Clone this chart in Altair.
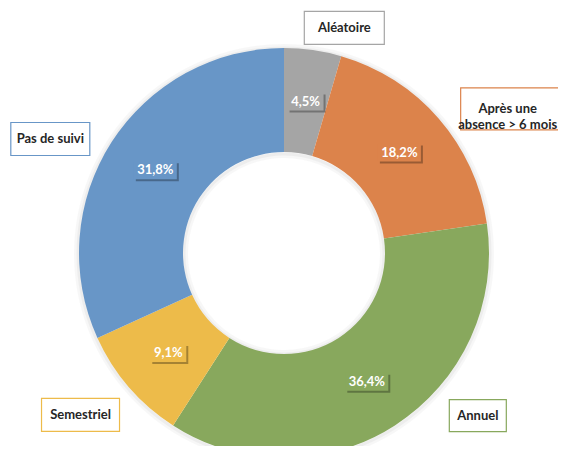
import altair as alt
import pandas as pd

# ---- data ----
categories = ["Aléatoire", "Après une absence > 6 mois", "Annuel", "Semestriel", "Pas de suivi"]
label_lines = [["Aléatoire"], ["Après une", "absence > 6 mois"], ["Annuel"], ["Semestriel"], ["Pas de suivi"]]
values = [4.5, 18.2, 36.4, 9.1, 31.8]
pct_labels = ["4,5%", "18,2%", "36,4%", "9,1%", "31,8%"]
colors = ["#A5A5A5", "#DC834B", "#88A85D", "#EDBB4A", "#6896C7"]

# ---- layout / style ----
CX, CY = 276, 245          # donut centre inside the view
R_OUT, R_IN = 205, 101
R_MID = 153
cat_angle = [15, 58, 130, 231.5, 296]      # placement of category callouts (deg, clockwise from top)
cat_radius = [233, 272, 253, 260, 260]
cat_box_w = [80, 108, 57, 78, 79]
cat_box_h = [33, 42, 32, 33, 33]
cat_text_dx = [0, -7, 0, 0, 0]
FONT = "Lato"

df = pd.DataFrame({
    "cat": categories,
    "value": values,
    "pct": pct_labels,
    "lines": label_lines,
    "idx": list(range(len(categories))),
    "la": cat_angle,
    "lr": cat_radius,
    "bw": cat_box_w,
    "bh": cat_box_h,
    "tdx": cat_text_dx,
})

color = alt.Color("cat:N", scale=alt.Scale(domain=categories, range=colors), legend=None)
base = alt.Chart(df)

# soft shadow around the ring (stroked circles, no seams)
one = alt.Chart(pd.DataFrame({"v": [1]}))
glow = alt.layer(*[
    one.mark_point(shape="circle", filled=False, stroke="#000000", strokeWidth=sw,
                   strokeOpacity=op, size=(2 * r) ** 2)
    .encode(x=alt.value(CX), y=alt.value(CY + 1))
    for (r, sw, op) in [(R_OUT + 2, 6, 0.04), (R_OUT + 1, 3, 0.05),
                        (R_IN - 2, 6, 0.04), (R_IN - 1, 3, 0.05)]
])

ring = base.mark_arc(x=CX, y=CY, innerRadius=R_IN, outerRadius=R_OUT).encode(
    theta=alt.Theta("value:Q", stack=True),
    color=color,
    order=alt.Order("idx:Q"),
)

# percentage labels at the middle of each slice
pct_base = base.transform_window(
    cum="sum(value)", sort=[alt.SortField("idx")], frame=[None, 0]
).transform_joinaggregate(total="sum(value)").transform_calculate(
    ang="2*PI*(datum.cum - datum.value/2)/datum.total",
    px=f"{CX} + {R_MID}*sin(datum.ang)",
    py=f"{CY} - {R_MID}*cos(datum.ang)",
    pw="length(datum.pct)*7 + 8",
    x1="datum.px - datum.pw/2",
    x2="datum.px + datum.pw/2",
    y1="datum.py - 9",
    y2="datum.py + 9",
    sx1="datum.x1 + 2",
    sx2="datum.x2 + 2",
    sy1="datum.y1 + 2",
    sy2="datum.y2 + 2",
)
pct_shadow = pct_base.mark_rect(color="#000000", opacity=0.3).encode(
    x=alt.X("sx1:Q", scale=None), x2="sx2:Q",
    y=alt.Y("sy1:Q", scale=None), y2="sy2:Q",
)
pct_box = pct_base.mark_rect().encode(
    x=alt.X("x1:Q", scale=None), x2="x2:Q",
    y=alt.Y("y1:Q", scale=None), y2="y2:Q",
    color=color,
)
pct_text = pct_base.mark_text(font=FONT, fontSize=13, fontWeight="bold", color="white",
                              align="center", baseline="middle").encode(
    x=alt.X("px:Q", scale=None), y=alt.Y("py:Q", scale=None), text="pct:N",
)

# category callouts
cat_base = base.transform_calculate(
    a="datum.la*PI/180",
    px=f"{CX} + datum.lr*sin(datum.a)",
    py=f"{CY} - datum.lr*cos(datum.a)",
    tx="datum.px + datum.tdx",
    x1="datum.px - datum.bw/2",
    x2="datum.px + datum.bw/2",
    y1="datum.py - datum.bh/2",
    y2="datum.py + datum.bh/2",
)
cat_box = cat_base.mark_rect(fill="white", strokeWidth=1.2).encode(
    x=alt.X("x1:Q", scale=None), x2="x2:Q",
    y=alt.Y("y1:Q", scale=None), y2="y2:Q",
    stroke=alt.Stroke("cat:N", scale=alt.Scale(domain=categories, range=colors), legend=None),
)
cat_text = cat_base.mark_text(font=FONT, fontSize=13, fontWeight="bold", color="#262626",
                              align="center", baseline="middle", lineHeight=16).encode(
    x=alt.X("tx:Q", scale=None), y=alt.Y("py:Q", scale=None), text="lines",
)

chart = alt.layer(glow, ring, pct_shadow, pct_box, pct_text, cat_box, cat_text).properties(
    width=550, height=438, autosize="none", padding=0, background="white"
).configure_view(stroke=None)

chart.save("out.html", embed_options={"renderer": "svg", "actions": False})
